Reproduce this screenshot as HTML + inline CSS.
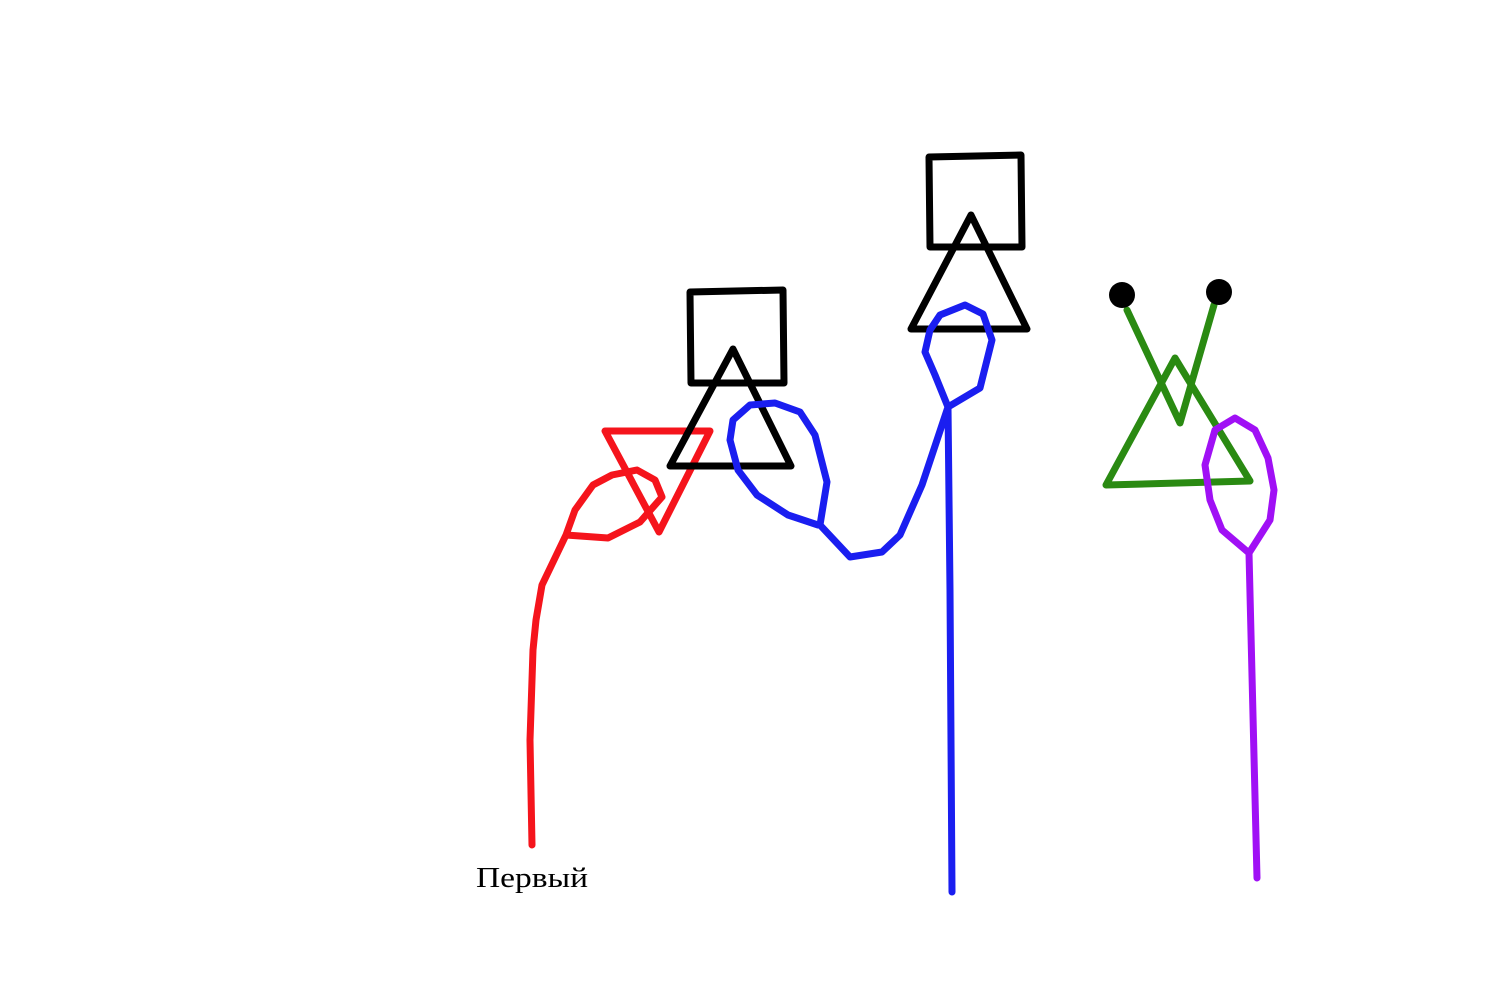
<!DOCTYPE html>
<html><head><meta charset="utf-8"><style>html,body{margin:0;padding:0;background:#fff}svg{display:block}</style></head>
<body>
<svg width="1500" height="1000" viewBox="0 0 1500 1000" xmlns="http://www.w3.org/2000/svg">
<rect width="1500" height="1000" fill="#fff"/>
<g fill="none" stroke-width="7" stroke-linejoin="round" stroke-linecap="round">
<!-- red -->
<path stroke="#f5141c" d="M532,845 L530,740 L533,650 L536,620 L542,585 L566,535 L608,538 L640,522 L662,497 L655,480 L637,470 L612,475 L593,485 L575,510 L566,535"/>
<path stroke="#f5141c" d="M605,431 L710,431 L659,532 Z"/>
<!-- black -->
<path stroke="#000" d="M690,292 L783,290 L784,383 L691,383 Z"/>
<path stroke="#000" d="M733,349 L791,466 L670,466 Z"/>
<path stroke="#000" d="M929,157 L1021,155 L1022,247 L930,247 Z"/>
<path stroke="#000" d="M971,215 L1027,329 L911,329 Z"/>
<!-- blue -->
<path stroke="#1a1ef0" d="M952,892 L950,590 L948,407 L980,388 L992,340 L983,314 L965,305 L940,315 L930,330 L925,352 L935,375 L948,407 L922,485 L900,535 L882,552 L850,557 L820,525 L827,482 L815,435 L800,412 L775,403 L750,405 L733,420 L730,440 L738,470 L757,495 L788,515 L818,525"/>
<!-- green -->
<path stroke="#2a8a12" d="M1127,310 L1180,423 L1214,305"/>
<path stroke="#2a8a12" d="M1175,358 L1250,481 L1106,485 Z"/>
<!-- purple -->
<path stroke="#a010f5" d="M1257,878 L1249,553 L1270,520 L1274,490 L1268,458 L1255,430 L1235,418 L1215,430 L1205,465 L1210,500 L1222,530 L1249,553"/>
</g>
<circle cx="1122" cy="295" r="13" fill="#000"/>
<circle cx="1219" cy="292" r="13" fill="#000"/>
<text x="476" y="887" font-family="Liberation Serif, serif" font-size="29" textLength="112" lengthAdjust="spacingAndGlyphs" fill="#000">Первый</text>
</svg>
</body></html>
